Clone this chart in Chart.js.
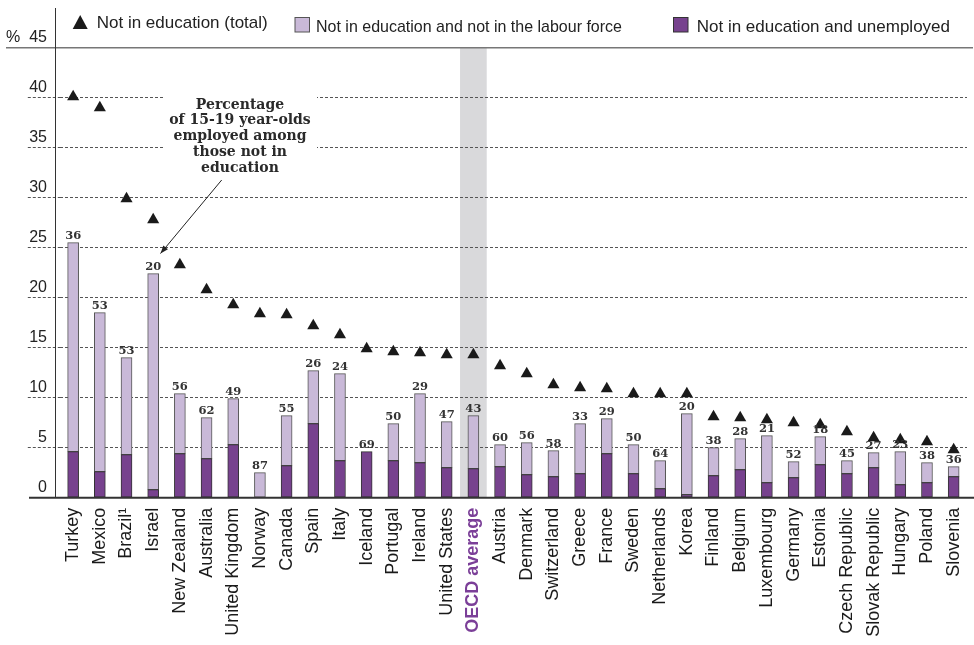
<!DOCTYPE html>
<html>
<head>
<meta charset="utf-8">
<script src="https://cdn.jsdelivr.net/npm/chart.js@4.4.0/dist/chart.umd.min.js"></script>
<style>
  html, body { margin: 0; padding: 0; background: #fff; }
</style>
</head>
<body>
<canvas id="chart" width="974" height="645"></canvas>
<script>
const countries = ['Turkey', 'Mexico', 'Brazil¹', 'Israel', 'New Zealand', 'Australia', 'United Kingdom',
  'Norway', 'Canada', 'Spain', 'Italy', 'Iceland', 'Portugal', 'Ireland', 'United States', 'OECD average',
  'Austria', 'Denmark', 'Switzerland', 'Greece', 'France', 'Sweden', 'Netherlands', 'Korea', 'Finland',
  'Belgium', 'Luxembourg', 'Germany', 'Estonia', 'Czech Republic', 'Slovak Republic', 'Hungary', 'Poland', 'Slovenia'];

// triangles: not in education (total)
const notInEducationTotal = [40.1, 39.0, 29.9, 27.8, 23.3, 20.8, 19.3, 18.4, 18.3, 17.2, 16.3, 14.9, 14.6, 14.5,
  14.3, 14.3, 13.2, 12.4, 11.3, 11.0, 10.9, 10.4, 10.4, 10.4, 8.1, 8.0, 7.8, 7.5, 7.3, 6.6, 6.0, 5.8, 5.6, 4.8];

// light part of bars
const notInLabourForce = [20.9, 15.9, 9.7, 21.6, 6.0, 4.1, 4.6, 2.5, 5.0, 5.3, 8.7, 0, 3.7, 6.9, 4.6, 5.3,
  2.2, 3.2, 2.6, 5.0, 3.5, 2.9, 2.8, 8.1, 2.8, 3.1, 4.7, 1.6, 2.8, 1.3, 1.5, 3.3, 2.0, 1.0];

// dark part of bars
const unemployed = [4.6, 2.6, 4.3, 0.8, 4.4, 3.9, 5.3, 0, 3.2, 7.4, 3.7, 4.6, 3.7, 3.5, 3.0, 2.9,
  3.1, 2.3, 2.1, 2.4, 4.4, 2.4, 0.9, 0.3, 2.2, 2.8, 1.5, 2.0, 3.3, 2.4, 3.0, 1.3, 1.5, 2.1];

// numbers above the bars
const employedShare = [36, 53, 53, 20, 56, 62, 49, 87, 55, 26, 24, 69, 50, 29, 47, 43,
  60, 56, 58, 33, 29, 50, 64, 20, 38, 28, 21, 52, 18, 45, 27, 23, 38, 36];

const annotationLines = ['Percentage', 'of 15-19 year-olds', 'employed among', 'those not in', 'education'];

const oecdIndex = countries.indexOf('OECD average');
const LIGHT = '#c9b9d8';
const DARK = '#77428e';
const SANS = '"Liberation Sans", Arial, sans-serif';
const SERIF = '"DejaVu Serif", serif';

const decorations = {
  id: 'decorations',
  beforeDraw(chart) {
    const { ctx, scales: { x, y } } = chart;
    const w = x.getPixelForValue(1) - x.getPixelForValue(0);
    const cx = x.getPixelForValue(oecdIndex);
    ctx.save();
    ctx.fillStyle = '#d9d9db';
    ctx.fillRect(cx - w / 2, y.getPixelForValue(45), w, y.getPixelForValue(0) - y.getPixelForValue(45));
    ctx.restore();
  },
  afterDatasetsDraw(chart) {
    const { ctx, scales: { y } } = chart;
    const top = chart.getDatasetMeta(1);
    ctx.save();
    // share employed, above each bar
    ctx.fillStyle = '#333';
    ctx.font = 'bold 11.5px ' + SERIF;
    ctx.textAlign = 'center';
    ctx.textBaseline = 'alphabetic';
    top.data.forEach((bar, i) => {
      ctx.fillText(String(employedShare[i]), bar.x, bar.y - 3.5);
    });

    // annotation with white box over the grid
    ctx.fillStyle = '#fff';
    ctx.fillRect(163, 93, 154, 83);
    ctx.fillStyle = '#2a2a2a';
    ctx.font = 'bold 14px ' + SERIF;
    ctx.textBaseline = 'middle';
    const lineY = [105, 120.8, 136.6, 152.4, 168.2];
    annotationLines.forEach((t, i) => ctx.fillText(t, 240, lineY[i], 146));

    // arrow to Israel label
    const x1 = 221.7, y1 = 180, x2 = 160.5, y2 = 253.5;
    ctx.strokeStyle = '#222';
    ctx.lineWidth = 1;
    ctx.beginPath();
    ctx.moveTo(x1, y1);
    ctx.lineTo(x2, y2);
    ctx.stroke();
    const a = Math.atan2(y2 - y1, x2 - x1);
    ctx.fillStyle = '#222';
    ctx.beginPath();
    ctx.moveTo(x2, y2);
    ctx.lineTo(x2 - 8 * Math.cos(a) + 3 * Math.sin(a), y2 - 8 * Math.sin(a) - 3 * Math.cos(a));
    ctx.lineTo(x2 - 8 * Math.cos(a) - 3 * Math.sin(a), y2 - 8 * Math.sin(a) + 3 * Math.cos(a));
    ctx.closePath();
    ctx.fill();

    // baseline
    ctx.strokeStyle = '#333';
    ctx.lineWidth = 2;
    ctx.beginPath();
    ctx.moveTo(29, y.getPixelForValue(0));
    ctx.lineTo(974, y.getPixelForValue(0));
    ctx.stroke();
    ctx.restore();
  },
  afterDraw(chart) {
    const { ctx, scales: { y } } = chart;
    ctx.save();
    // top line and y axis
    ctx.strokeStyle = '#777';
    ctx.lineWidth = 1.5;
    ctx.beginPath();
    ctx.moveTo(6, y.getPixelForValue(45));
    ctx.lineTo(973, y.getPixelForValue(45));
    ctx.stroke();
    ctx.strokeStyle = '#333';
    ctx.lineWidth = 1;
    ctx.beginPath();
    ctx.moveTo(55.5, 8);
    ctx.lineTo(55.5, y.getPixelForValue(0));
    ctx.stroke();

    // legend
    ctx.fillStyle = '#1a1a1a';
    ctx.beginPath();
    ctx.moveTo(72.7, 29);
    ctx.lineTo(87.7, 29);
    ctx.lineTo(80.2, 15);
    ctx.closePath();
    ctx.fill();
    ctx.font = '17px ' + SANS;
    ctx.textBaseline = 'alphabetic';
    ctx.textAlign = 'left';
    ctx.fillStyle = '#222';
    ctx.fillText(chart.data.datasets[2].label, 96.7, 28.3, 173);
    ctx.fillStyle = LIGHT;
    ctx.strokeStyle = '#555';
    ctx.fillRect(295, 17.5, 14.5, 14.5);
    ctx.strokeRect(295, 17.5, 14.5, 14.5);
    ctx.fillStyle = '#222';
    ctx.fillText(chart.data.datasets[1].label, 316, 31.5, 306);
    ctx.fillStyle = DARK;
    ctx.strokeStyle = '#333';
    ctx.fillRect(673.5, 17.5, 14.5, 14.5);
    ctx.strokeRect(673.5, 17.5, 14.5, 14.5);
    ctx.fillStyle = '#222';
    ctx.fillText(chart.data.datasets[0].label, 696.7, 32.3, 260);
    ctx.restore();
  }
};

new Chart(document.getElementById('chart'), {
  data: {
    labels: countries,
    datasets: [
      {
        type: 'bar',
        label: 'Not in education and unemployed',
        data: unemployed,
        backgroundColor: DARK,
        borderColor: '#333',
        borderWidth: 1,
        borderSkipped: false,
        barThickness: 11,
        stack: 'bars',
        order: 2
      },
      {
        type: 'bar',
        label: 'Not in education and not in the labour force',
        data: notInLabourForce,
        backgroundColor: LIGHT,
        borderColor: '#555',
        borderWidth: 1,
        borderSkipped: false,
        barThickness: 11,
        stack: 'bars',
        order: 2
      },
      {
        type: 'line',
        label: 'Not in education (total)',
        data: notInEducationTotal,
        showLine: false,
        pointStyle: 'triangle',
        pointRadius: 7,
        pointHoverRadius: 7,
        pointBackgroundColor: '#1a1a1a',
        pointBorderWidth: 0,
        stack: 'total',
        order: 1
      }
    ]
  },
  options: {
    responsive: false,
    animation: false,
    devicePixelRatio: 1,
    layout: { padding: { top: 47.7, right: 1.9, left: 0, bottom: 0 } },
    plugins: {
      legend: { display: false },
      tooltip: { enabled: false }
    },
    scales: {
      x: {
        stacked: true,
        grid: { display: false, drawTicks: false },
        border: { display: false },
        ticks: {
          autoSkip: false,
          maxRotation: 90,
          minRotation: 90,
          padding: 10,
          color: ctx => ctx.index === oecdIndex ? '#7b3f98' : '#1a1a1a',
          font: ctx => ({ family: SANS, size: 18, weight: ctx.index === oecdIndex ? 'bold' : 'normal' })
        },
        afterFit: s => { s.height = 147.3; s.paddingLeft = 0; s.paddingRight = 0; }
      },
      y: {
        stacked: true,
        min: 0,
        max: 45,
        border: { display: false, dash: [3, 2] },
        grid: {
          color: ctx => (ctx.tick && (ctx.tick.value === 0 || ctx.tick.value === 45)) ? 'rgba(0,0,0,0)' : '#555',
          tickColor: ctx => (ctx.tick && (ctx.tick.value === 0 || ctx.tick.value === 45)) ? 'rgba(0,0,0,0)' : '#555',
          lineWidth: 1,
          tickLength: 32,
          tickBorderDash: [3, 2]
        },
        ticks: {
          stepSize: 5,
          padding: -19.2,
          labelOffset: -10,
          color: '#222',
          font: { family: SANS, size: 16 },
          callback: v => v === 45 ? '%  45' : String(v)
        },
        afterFit: s => { s.width = 59.8; s.paddingTop = 0; s.paddingBottom = 0; }
      }
    }
  },
  plugins: [decorations]
});
</script>
</body>
</html>
